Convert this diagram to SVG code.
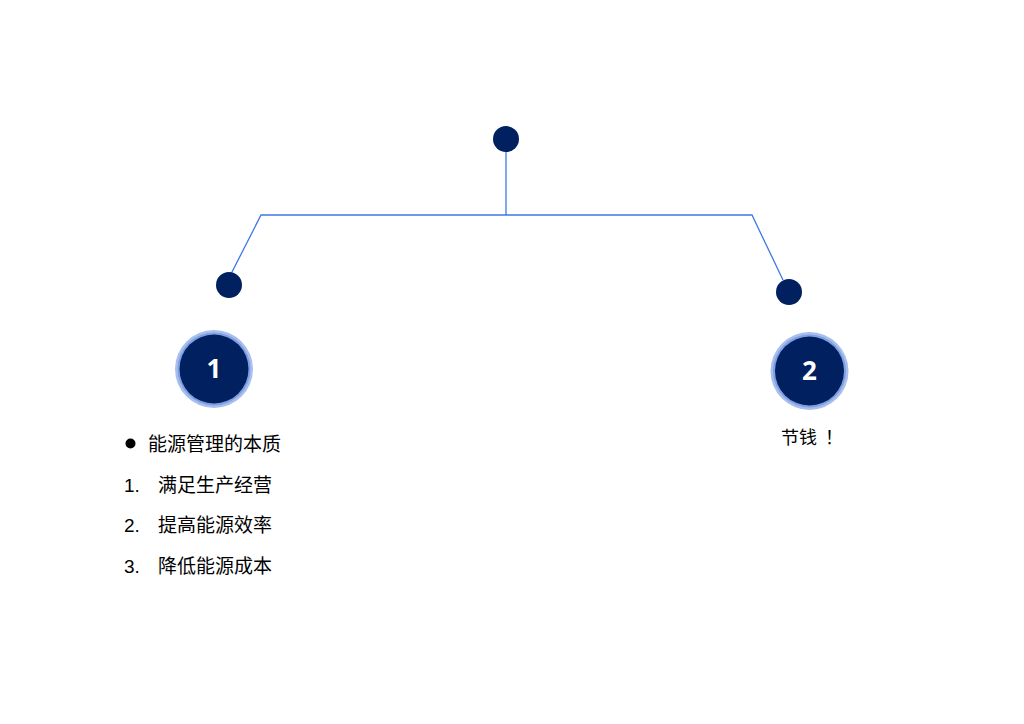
<svg xmlns="http://www.w3.org/2000/svg" width="1024" height="724" viewBox="0 0 1024 724">
<style>
.dot{fill:#002060}
.ring{fill:#A8BFEE}
.ring2{fill:#7F9FE2}
.core{fill:#002060}
.num{font-family:"Open Sans","Liberation Sans",sans-serif;font-weight:bold;font-size:26px;fill:#FFFFFF;text-anchor:middle}
.txt{font-family:"Liberation Sans","Noto Sans CJK SC",sans-serif;font-size:19px;fill:#000000}
.cjk{font-family:"Noto Sans CJK SC",sans-serif;font-size:18px;fill:#000000}
.conn{stroke:#3C78E6;stroke-width:1.3;fill:none}
</style>
<rect width="1024" height="724" fill="#FFFFFF"/>
<g id="connectors">
<polyline class="conn" points="506,150 506,215"/>
<polyline class="conn" points="231,274 261,215 752,215 783,280"/>
</g>
<g id="top-dot"><circle class="dot" cx="506" cy="139" r="13"/></g>
<g id="left-dot"><circle class="dot" cx="229" cy="285" r="13"/></g>
<g id="right-dot"><circle class="dot" cx="789" cy="292" r="13"/></g>
<g id="node-1">
<circle class="ring" cx="214" cy="369" r="39"/>
<circle class="ring2" cx="214" cy="369" r="36.5"/>
<circle class="core" cx="214" cy="369" r="34.5"/>
<text class="num" x="214" y="378">1</text>
</g>
<g id="node-2">
<circle class="ring" cx="809.5" cy="371" r="39"/>
<circle class="ring2" cx="809.5" cy="371" r="36.5"/>
<circle class="core" cx="809.5" cy="371" r="34.5"/>
<text class="num" x="809.5" y="380">2</text>
</g>
<g id="list-1">
<circle cx="130.5" cy="443.5" r="5" fill="#000000"/>
<text class="txt" x="148" y="451">能源管理的本质</text>
<text class="txt" x="124" y="492">1.</text>
<text class="txt" x="158" y="492">满足生产经营</text>
<text class="txt" x="124" y="532">2.</text>
<text class="txt" x="158" y="532">提高能源效率</text>
<text class="txt" x="124" y="573">3.</text>
<text class="txt" x="158" y="573">降低能源成本</text>
</g>
<g id="label-2">
<text class="cjk" x="781" y="444">节钱<tspan x="825">！</tspan></text>
</g>
</svg>
